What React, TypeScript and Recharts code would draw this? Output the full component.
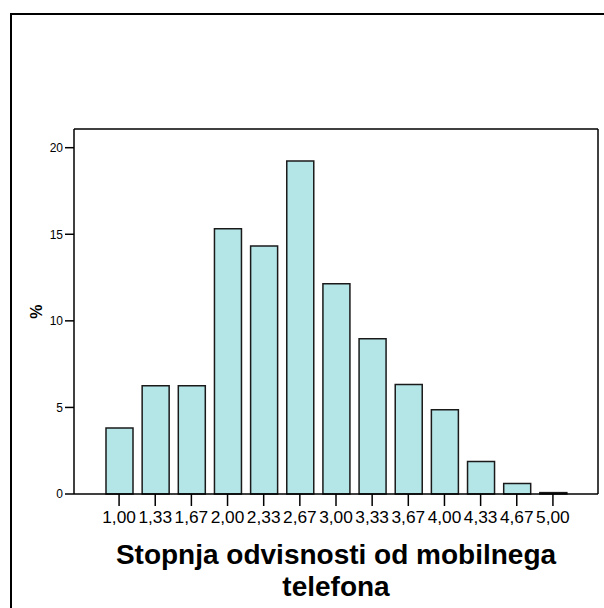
import React from 'react';
import { BarChart, Bar, Line, XAxis, YAxis } from 'recharts';

const categories = ['1,00', '1,33', '1,67', '2,00', '2,33', '2,67', '3,00', '3,33', '3,67', '4,00', '4,33', '4,67', '5,00'];
const percents = [3.81, 6.25, 6.25, 15.32, 14.32, 19.23, 12.14, 8.97, 6.33, 4.87, 1.88, 0.61, 0.08];
const yTicks = [0, 5, 10, 15, 20];
const yDomain: [number, number] = [0, 21.08];
const xTitleLines = ['Stopnja odvisnosti od mobilnega', 'telefona'];
const yTitle = '%';

const data = categories.map((c, i) => ({ cat: c, pct: percents[i] }));

const FONT = "'Liberation Sans', Arial, Helvetica, sans-serif";

const XTitle = (props: any) => {
  const vb = props.viewBox || {};
  const cx = vb.x + vb.width / 2;
  return (
    <text x={cx} y={vb.y + 70} textAnchor="middle" fontFamily={FONT} fontWeight="bold" fontSize={28} fill="#000">
      <tspan x={cx} y={vb.y + 70}>{xTitleLines[0]}</tspan>
      <tspan x={cx} y={vb.y + 102}>{xTitleLines[1]}</tspan>
    </text>
  );
};

const YTitle = (props: any) => {
  const vb = props.viewBox || {};
  const x = vb.x + 22;
  const y = vb.y + vb.height / 2;
  return (
    <text x={x} y={y} transform={`rotate(-90 ${x} ${y})`} textAnchor="middle" dominantBaseline="central"
      fontFamily={FONT} fontWeight="bold" fontSize={16} fill="#000">
      {yTitle}
    </text>
  );
};

export default function App() {
  return (
    <div style={{ position: 'absolute', left: 0, top: 0, width: 604, height: 608, background: '#fff', overflow: 'hidden' }}>
      <div style={{ position: 'absolute', left: 10, top: 13, width: 604, height: 608, borderLeft: '2px solid #000', borderTop: '2px solid #000', boxSizing: 'border-box' }} />
      <div style={{ position: 'absolute', left: 0, top: 0 }}>
        <BarChart width={604} height={608} data={data} margin={{ top: 128, right: 5, left: 14, bottom: 74 }} barSize={27}>
          <XAxis
            xAxisId="x"
            dataKey="cat"
            interval={0}
            height={40}
            padding={{ left: 27, right: 27 }}
            tickSize={12}
            tickMargin={5}
            tick={{ fontFamily: FONT, fontSize: 17.3, fill: '#000' }}
            tickLine={{ stroke: '#000', strokeWidth: 1.5 }}
            axisLine={{ stroke: '#000', strokeWidth: 1.5 }}
            label={<XTitle />}
          />
          <XAxis
            xAxisId="xt"
            dataKey="cat"
            orientation="top"
            height={1}
            tick={false}
            tickLine={false}
            padding={{ left: 27, right: 27 }}
            axisLine={{ stroke: '#000', strokeWidth: 1.5 }}
          />
          <YAxis
            yAxisId="y"
            width={60}
            type="number"
            domain={yDomain}
            ticks={yTicks}
            interval={0}
            tickSize={9}
            tickMargin={2}
            tick={{ fontFamily: FONT, fontSize: 12, fill: '#000' }}
            tickLine={{ stroke: '#000', strokeWidth: 1.5 }}
            axisLine={{ stroke: '#000', strokeWidth: 1.5 }}
            label={<YTitle />}
          />
          <YAxis
            yAxisId="yr"
            orientation="right"
            width={1}
            type="number"
            domain={yDomain}
            tick={false}
            tickLine={false}
            axisLine={{ stroke: '#000', strokeWidth: 1.5 }}
          />
          <Bar
            xAxisId="x"
            yAxisId="y"
            dataKey="pct"
            fill="#b4e6e8"
            stroke="#1a1a1a"
            strokeWidth={1.5}
            isAnimationActive={false}
          />
          <Line
            xAxisId="xt"
            yAxisId="yr"
            dataKey="pct"
            stroke="none"
            dot={false}
            activeDot={false}
            legendType="none"
            isAnimationActive={false}
          />
        </BarChart>
      </div>
    </div>
  );
}
